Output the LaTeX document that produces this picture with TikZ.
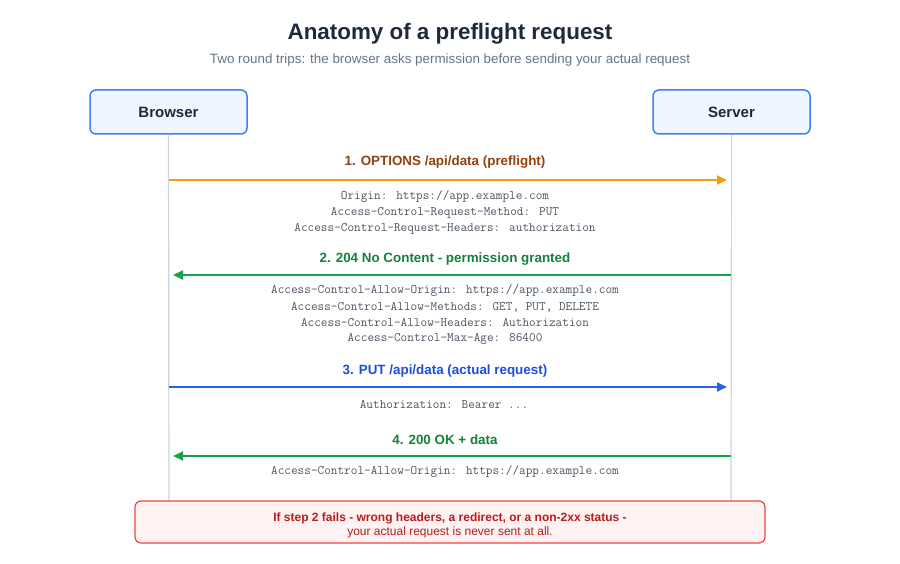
\documentclass[tikz,border=0pt]{standalone}
\usepackage{fontspec}
\setmainfont{Liberation Sans}
\usetikzlibrary{arrows.meta}
\definecolor{titlec}{HTML}{1E293B}
\definecolor{subc}{HTML}{64748B}
\definecolor{boxfill}{HTML}{EFF6FF}
\definecolor{boxdraw}{HTML}{3B82F6}
\definecolor{lifec}{HTML}{CBD5E1}
\definecolor{orangec}{HTML}{F59E0B}
\definecolor{orangetxt}{HTML}{92400E}
\definecolor{greenc}{HTML}{16A34A}
\definecolor{greentxt}{HTML}{15803D}
\definecolor{bluec}{HTML}{2563EB}
\definecolor{bluetxt}{HTML}{1D4ED8}
\definecolor{monoc}{HTML}{4B5563}
\definecolor{redfill}{HTML}{FEF2F2}
\definecolor{reddraw}{HTML}{EF4444}
\definecolor{redtxt}{HTML}{B91C1C}
\tikzset{
  actor/.style={draw=boxdraw, fill=boxfill, line width=1.5pt, rounded corners=6pt,
    minimum width=157pt, minimum height=44pt, font=\fontsize{15}{17}\selectfont\bfseries, text=titlec},
  life/.style={draw=lifec, line width=1.2pt},
  msg/.style={line width=1.8pt},
  msglabel/.style={font=\fontsize{13.4}{15}\selectfont\bfseries},
  hdr/.style={font=\fontsize{12.9}{16}\ttfamily, text=monoc, align=center},
}
\begin{document}
\begin{tikzpicture}[x=1pt,y=-1pt]
\useasboundingbox (0,0) rectangle (900,564);
\node[font=\fontsize{22.4}{26}\selectfont\bfseries, text=titlec] (title) at (450,34) {Anatomy of a preflight request};
\node[font=\fontsize{13.4}{15}\selectfont, text=subc] (sub) at (450,60.5) {Two round trips: the browser asks permission before sending your actual request};
\node[actor] (browser) at (168.5,112) {Browser};
\node[actor] (server) at (731.5,112) {Server};
\coordinate (bend) at (169,501);
\coordinate (send) at (731,501);
\draw[life] (browser.south) -- (bend);
\draw[life] (server.south) -- (send);
% message 1
\coordinate (b1) at (169,180); \coordinate (s1) at (731,180);
\draw[msg, draw=orangec, -{Triangle[length=10pt,width=9pt,fill=orangec]}] (b1) -- ([xshift=-4pt]s1);
\node[msglabel, text=orangetxt] (l1) at (445,162.5) {1. OPTIONS /api/data (preflight)};
\node[hdr] (h1) at (445,212) {Origin: https://app.example.com\\Access-Control-Request-Method: PUT\\Access-Control-Request-Headers: authorization};
% message 2
\coordinate (b2) at (169,275); \coordinate (s2) at (731,275);
\draw[msg, draw=greenc, -{Triangle[length=10pt,width=9pt,fill=greenc]}] (s2) -- ([xshift=4pt]b2);
\node[msglabel, text=greentxt] (l2) at (445,259.5) {2. 204 No Content - permission granted};
\node[hdr] (h2) at (445,315) {Access-Control-Allow-Origin: https://app.example.com\\Access-Control-Allow-Methods: GET, PUT, DELETE\\Access-Control-Allow-Headers: Authorization\\Access-Control-Max-Age: 86400};
% message 3
\coordinate (b3) at (169,387); \coordinate (s3) at (731,387);
\draw[msg, draw=bluec, -{Triangle[length=10pt,width=9pt,fill=bluec]}] (b3) -- ([xshift=-4pt]s3);
\node[msglabel, text=bluetxt] (l3) at (445,371.5) {3. PUT /api/data (actual request)};
\node[hdr] (h3) at (444,405) {Authorization: Bearer ...};
% message 4
\coordinate (b4) at (169,456); \coordinate (s4) at (731,456);
\draw[msg, draw=greenc, -{Triangle[length=10pt,width=9pt,fill=greenc]}] (s4) -- ([xshift=4pt]b4);
\node[msglabel, text=greentxt] (l4) at (445,439.5) {4. 200 OK + data};
\node[hdr] (h4) at (445,471) {Access-Control-Allow-Origin: https://app.example.com};
% warning
\node[draw=reddraw, fill=redfill, line width=1.2pt, rounded corners=6pt, minimum width=630pt, minimum height=42pt] (warn) at (450,522) {};
\node[align=center, text=redtxt, font=\fontsize{12}{15}\selectfont] (warntxt) at (450,525.5) {{\bfseries If step 2 fails - wrong headers, a redirect, or a non-2xx status -}\\[-0.5pt]your actual request is never sent at all.};
\end{tikzpicture}
\end{document}
